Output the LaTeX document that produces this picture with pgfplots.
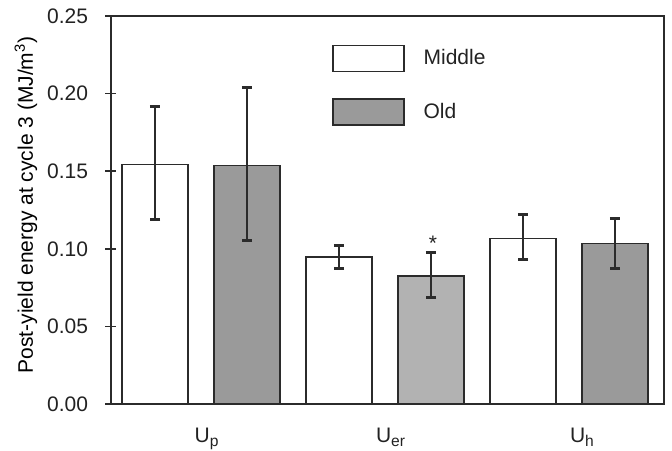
\documentclass[border=0pt]{standalone}
\usepackage{fontspec}
\setmainfont{Liberation Sans}
\usepackage{pgfplots}
\pgfplotsset{compat=1.18}
\usetikzlibrary{calc}
\definecolor{edge}{HTML}{2B2B2B}
\definecolor{txt}{HTML}{222222}
\definecolor{oldgray}{HTML}{9A9A9A}
\definecolor{oldlight}{HTML}{B2B2B2}
\newcommand{\sub}[1]{\raisebox{-2pt}{\fontsize{7.8}{8}\selectfont #1}}

\begin{document}
\fontsize{10.5}{12.5}\selectfont
\begin{tikzpicture}[font=\fontsize{10.5}{12.5}\selectfont]
\begin{axis}[
  name=ax,
  scale only axis, width=276.5pt, height=194pt,
  xmin=-0.489, xmax=2.516, ymin=0, ymax=0.25,
  every tick label/.append style={font=\fontsize{10.5}{12.5}\selectfont, text=txt},
  label style={font=\fontsize{11}{13}\selectfont, text=txt},
  ytick={0,0.05,0.10,0.15,0.20,0.25},
  yticklabel style={xshift=-5pt, /pgf/number format/.cd, fixed, fixed zerofill, precision=2},
  /pgf/number format/assume math mode=true,
  xtick={0.03,1.03,2.07},
  xticklabels={U\sub{p}, U\sub{er}, U\sub{h}},
  xticklabel style={yshift=-5.5pt},
  x tick style={draw=none},
  ytick pos=left,
  y tick style={edge, line width=0.75pt},
  tick align=center, major tick length=5.5pt,
  axis line style={edge, line width=0.75pt},
  every axis y label/.style={at={(rel axis cs:0,0.513)}, xshift=-42.5pt, rotate=90, anchor=center},
  ylabel={Post-yield energy at cycle 3 (MJ/m\textsuperscript{3})},
  legend image code/.code={\draw[#1] (0pt,-6.5pt) rectangle (35.5pt,6.5pt);},
  legend style={draw=none, fill=none, inner sep=0pt, at={(rel axis cs:0.399,0.927)}, anchor=north west,
    row sep=13pt, nodes={inner sep=0pt, anchor=west, font=\fontsize{10.5}{12.5}\selectfont, text=txt},
    /tikz/every odd column/.append style={column sep=9.5pt}},
  error bars/error bar style={edge, line width=0.75pt},
  error bars/error mark options={rotate=90, mark size=2.6pt, line width=1.5pt, edge},
]
\addplot[ybar, bar width=0.359, bar shift=0, fill=white, draw=edge, line width=0.8pt,
  error bars/.cd, y dir=both, y explicit]
  coordinates {
    (-0.25,0.1544) += (0,0.0374) -= (0,0.0358)
    (0.75,0.0947) += (0,0.0073) -= (0,0.0073)
    (1.75,0.1067) += (0,0.0151) -= (0,0.0139)
  };
\addlegendentry{Middle}
\addplot[ybar, bar width=0.359, bar shift=0, fill=oldgray, draw=edge, line width=0.8pt,
  error bars/.cd, y dir=both, y explicit]
  coordinates {
    (0.25,0.1536) += (0,0.0505) -= (0,0.0484)
    (2.25,0.1035) += (0,0.0161) -= (0,0.0161)
  };
\addlegendentry{Old}
\addplot[ybar, bar width=0.359, bar shift=0, fill=oldlight, draw=edge, line width=0.8pt, forget plot,
  error bars/.cd, y dir=both, y explicit]
  coordinates {
    (1.25,0.0825) += (0,0.0150) -= (0,0.0140)
  };
\node[anchor=base, inner sep=0pt, text=txt] at (axis cs:1.261,0.099) {*};
\end{axis}
\pgfresetboundingbox
\path ($(ax.south west)+(-55.5pt,-23.5pt)$) rectangle ($(ax.north east)+(4pt,8pt)$);
\end{tikzpicture}
\end{document}
